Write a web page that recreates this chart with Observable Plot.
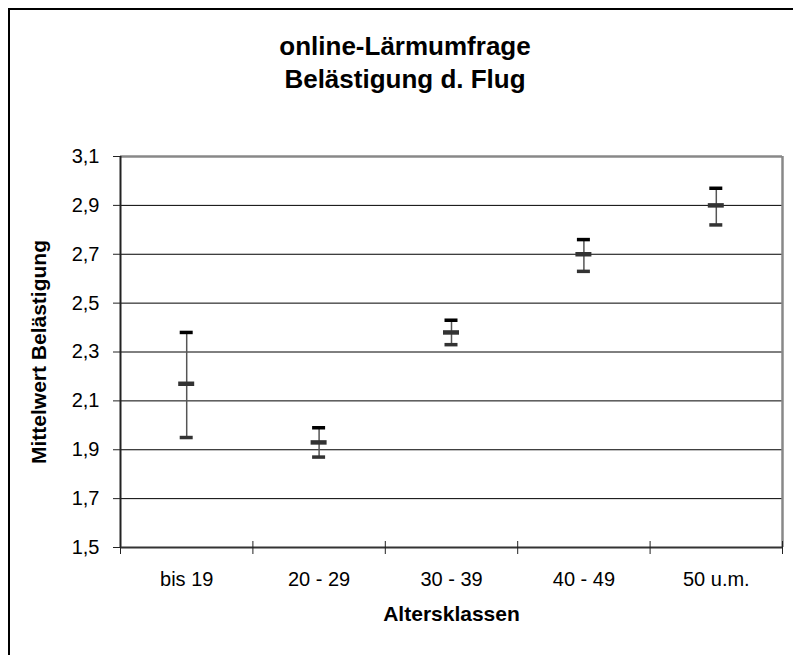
<!DOCTYPE html>
<html><head><meta charset="utf-8">
<script src="https://cdn.jsdelivr.net/npm/d3@7"></script>
<script src="https://cdn.jsdelivr.net/npm/@observablehq/plot@0.6"></script>
<style>
body{margin:0;background:#fff;font-family:"Liberation Sans",Arial,sans-serif;}
#wrap{position:relative;width:793px;height:655px;overflow:hidden;background:#fff;}
#frame{position:absolute;left:8px;top:8px;width:820px;height:700px;border:2px solid #000;box-sizing:border-box;}
#title{position:absolute;left:0;width:810px;top:30px;text-align:center;font-weight:bold;font-size:26px;line-height:33px;color:#000;}
#chart{position:absolute;left:0;top:110px;}
</style></head><body>
<div id="wrap"><div id="frame"></div><div id="title"></div><div id="chart"></div></div>
<script>
const titleLines = ["online-Lärmumfrage", "Belästigung d. Flug"];
const categories = ["bis 19", "20 - 29", "30 - 39", "40 - 49", "50 u.m."];
const means = [2.17, 1.93, 2.38, 2.70, 2.90];
const upper = [2.38, 1.99, 2.43, 2.76, 2.97];
const lower = [1.95, 1.87, 2.33, 2.63, 2.82];
const yTicks = [1.5, 1.7, 1.9, 2.1, 2.3, 2.5, 2.7, 2.9, 3.1];
const yLabel = "Mittelwert Belästigung";
const xLabel = "Altersklassen";

document.getElementById("title").innerHTML = titleLines.join("<br>");

const idx = categories.map((c, i) => i);
const center = i => i + 0.5;
const bounds = d3.range(categories.length + 1);

const chart = Plot.plot({
  width: 793,
  height: 545,
  marginLeft: 120,
  marginRight: 11,
  marginTop: 46,
  marginBottom: 108,
  style: {fontFamily: "'Liberation Sans', Arial, sans-serif", fontSize: "20px", color: "#000", background: "transparent"},
  x: {domain: [0, categories.length], axis: null},
  y: {domain: [yTicks[0], yTicks[yTicks.length - 1]], axis: null},
  marks: [
    Plot.ruleY(yTicks.slice(1, -1), {stroke: "#000", strokeWidth: 1}),
    Plot.ruleY([yTicks[yTicks.length - 1]], {stroke: "#888", strokeWidth: 2.5}),
    Plot.ruleX([categories.length], {stroke: "#888", strokeWidth: 2.5}),
    Plot.ruleX([0], {stroke: "#222", strokeWidth: 2}),
    Plot.ruleY([yTicks[0]], {stroke: "#333", strokeWidth: 2}),
    Plot.ruleX(bounds, {y1: yTicks[0], y2: yTicks[0], insetTop: 7, insetBottom: 6, stroke: "#222", strokeWidth: 1}),
    Plot.axisY({ticks: yTicks, tickFormat: d => d.toFixed(1).replace(".", ","), tickSize: 7, tickPadding: 14, label: null, stroke: "#222", fontSize: 20}),
    Plot.axisX({ticks: idx.map(center), tickFormat: d => categories[Math.round(d - 0.5)], tickSize: 0, tickPadding: 24, label: null, fontSize: 20}),
    // error bars
    Plot.ruleX(idx, {x: center, y1: i => lower[i], y2: i => upper[i], stroke: "#555", strokeWidth: 1.5}),
    Plot.ruleY(idx, {y: i => upper[i], x1: center, x2: center, insetLeft: -6.5, insetRight: -6.5, stroke: "#000", strokeWidth: 3.5}),
    Plot.ruleY(idx, {y: i => lower[i], x1: center, x2: center, insetLeft: -6.5, insetRight: -6.5, stroke: "#333", strokeWidth: 3.5}),
    Plot.ruleY(idx, {y: i => means[i], x1: center, x2: center, insetLeft: -8, insetRight: -8, stroke: "#333", strokeWidth: 4.5}),
    // axis titles
    Plot.text([yLabel], {frameAnchor: "left", textAnchor: "middle", lineAnchor: "middle", rotate: -90, dx: -81, fontWeight: "bold", fontSize: 21}),
    Plot.text([xLabel], {frameAnchor: "bottom", textAnchor: "middle", lineAnchor: "middle", dy: 67, fontWeight: "bold", fontSize: 21})
  ]
});
document.getElementById("chart").appendChild(chart);
</script>
</body></html>
